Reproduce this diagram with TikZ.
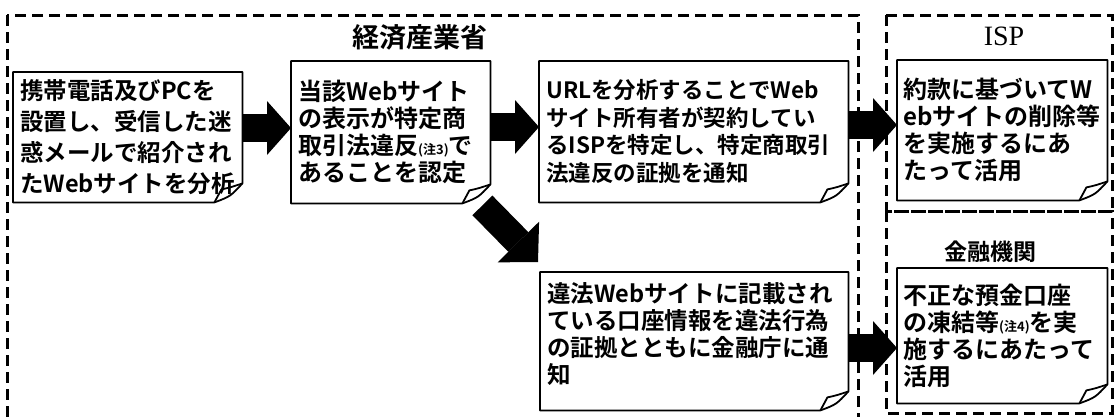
\documentclass[tikz,border=0pt]{standalone}
\usepackage{fontspec}
\newfontfamily\jp{Noto Sans CJK JP}[BoldFont={Noto Sans CJK JP Bold}]
\newfontfamily\ispfont{Liberation Serif}
\usetikzlibrary{arrows.meta,calc}
\tikzset{
  grp/.style={line width=3pt, dash pattern=on 11pt off 6pt},
  note/.style={anchor=north west, inner xsep=7pt, inner ysep=0pt, align=left},
  noteline/.style={line width=1.8pt, line join=round},
  blk/.style={line width=28pt, -{Triangle[length=24pt,width=54pt,line width=0pt]}},
  dblk/.style={line width=28pt, -{Triangle[length=28pt,width=58pt,line width=0pt]}},
  ttl/.style={font=\jp\bfseries\fontsize{27}{27}\selectfont, inner sep=0pt}
}
\newcommand\notebox[1]{%
  \draw[noteline] (#1.north west) -- (#1.north east) -- ([yshift=19pt]#1.south east)
    .. controls ([xshift=-12pt,yshift=6pt]#1.south east) .. ([xshift=-28pt]#1.south east)
    -- (#1.south west) -- cycle;
  \draw[noteline] ([xshift=-28pt]#1.south east) -- ([xshift=-21pt,yshift=13pt]#1.south east)
    .. controls ([xshift=-12pt,yshift=15pt]#1.south east) .. ([yshift=19pt]#1.south east);
}
\begin{document}
\begin{tikzpicture}[x=1pt,y=-1pt]
\useasboundingbox (0,0) rectangle (1115,416);
\clip (0,0) rectangle (1115,416);
\fill[white] (0,0) rectangle (1115,416);

% group frames
\draw[grp] (7,15) rectangle (858,440);
\draw[grp] (886,15) rectangle (1112,211);
\draw[grp] (886,211) rectangle (1112,413);

% titles
\node[ttl] (t1) at (420,37) {経済産業省};
\node[inner sep=0pt, font=\ispfont\fontsize{28}{28}\selectfont] (t2) at (1004,36) {ISP};
\node[ttl, font=\jp\bfseries\fontsize{23}{23}\selectfont] (t3) at (990,252) {金融機関};

% notes
\node[note, text width=215pt, minimum height=130pt, font=\jp\bfseries\fontsize{23.5}{31}\selectfont] (A) at (13,72)
  {携帯電話及びPCを\\設置し、受信した迷\\惑メールで紹介され\\たWebサイトを分析};
\node[note, text width=185pt, minimum height=142pt, font=\jp\bfseries\fontsize{24}{27}\selectfont] (B) at (291,61)
  {当該Webサイト\\の表示が特定商\\取引法違反{\fontsize{13}{13}\selectfont(注3)}で\\あることを認定};
\node[note, text width=295pt, minimum height=141pt, font=\jp\bfseries\fontsize{22.5}{27.5}\selectfont] (C) at (539,61)
  {URLを分析することでWeb\\サイト所有者が契約してい\\るISPを特定し、特定商取引\\法違反の証拠を通知};
\node[note, text width=294pt, minimum height=138pt, font=\jp\bfseries\fontsize{23.5}{27}\selectfont] (D) at (540,272)
  {違法Webサイトに記載され\\ている口座情報を違法行為\\の証拠とともに金融庁に通\\知\vspace*{14pt}};
\node[note, inner xsep=6pt, text width=198pt, minimum height=140pt, font=\jp\bfseries\fontsize{24}{27}\selectfont] (E) at (897,60)
  {約款に基づいてW\\ebサイトの削除等\\を実施するにあ\\たって活用};
\node[note, inner xsep=6pt, text width=198pt, minimum height=135pt, font=\jp\bfseries\fontsize{24}{27}\selectfont] (F) at (897,268)
  {不正な預金口座\\の凍結等{\fontsize{13}{13}\selectfont(注4)}を実\\施するにあたって\\活用};

\notebox{A}\notebox{B}\notebox{C}\notebox{D}\notebox{E}\notebox{F}

% arrows
\draw[blk] (A.east |- 0,128) -- (B.west |- 0,128);
\draw[blk] (B.east |- 0,127) -- (C.west |- 0,127);
\draw[blk] (C.east |- 0,125) -- (E.west |- 0,125);
\draw[blk] (D.east |- 0,348) -- (F.west |- 0,348);
\draw[dblk] ($(B.south east)+(-8,2)$) -- ($(D.north west)+(-2,-10)$);
\end{tikzpicture}
\end{document}
